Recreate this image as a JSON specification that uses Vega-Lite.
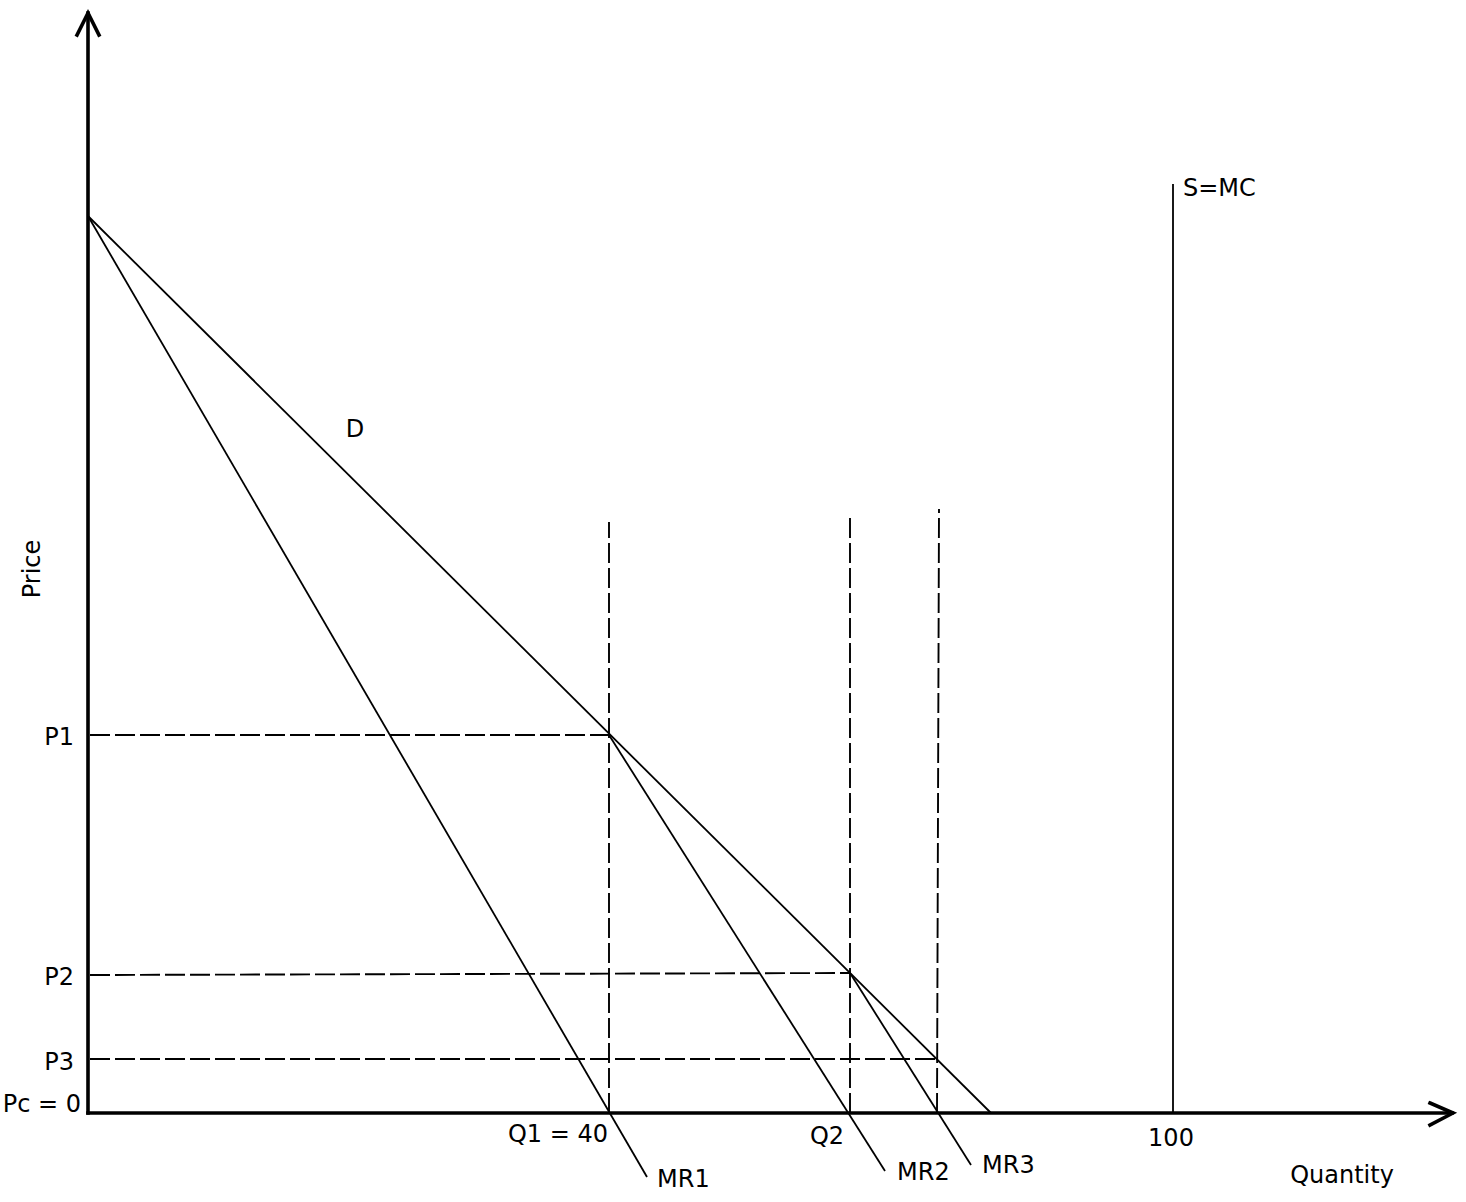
{
  "$schema": "https://vega.github.io/schema/vega-lite/v6.json",
  "description": "Monopoly pricing diagram: demand D, marginal revenue curves MR1-MR3, vertical supply S=MC and dashed price/quantity guides.",
  "width": 1466,
  "height": 1202,
  "padding": 0,
  "autosize": {"type": "none"},
  "background": "white",
  "datasets": {
    "curves": [
      {"id": "D", "i": 0, "q": 0, "p": 89.7},
      {"id": "D", "i": 1, "q": 90.3, "p": 0},
      {"id": "MR1", "i": 0, "q": 0, "p": 89.7},
      {"id": "MR1", "i": 1, "q": 55.9, "p": -6.4},
      {"id": "MR2", "i": 0, "q": 52.1, "p": 37.8},
      {"id": "MR2", "i": 1, "q": 79.7, "p": -5.8},
      {"id": "MR3", "i": 0, "q": 76.2, "p": 14.0},
      {"id": "MR3", "i": 1, "q": 88.3, "p": -5.2},
      {"id": "S=MC", "i": 0, "q": 108.5, "p": 92.9},
      {"id": "S=MC", "i": 1, "q": 108.5, "p": 0}
    ],
    "guides": [
      {"id": "P1", "i": 0, "q": 0.2, "p": 37.8},
      {"id": "P1", "i": 1, "q": 52.1, "p": 37.8},
      {"id": "P2", "i": 0, "q": 0.2, "p": 13.8},
      {"id": "P2", "i": 1, "q": 76.2, "p": 14.0},
      {"id": "P3", "i": 0, "q": 0.2, "p": 5.4},
      {"id": "P3", "i": 1, "q": 84.9, "p": 5.4},
      {"id": "Q1", "i": 0, "q": 52.1, "p": 0},
      {"id": "Q1", "i": 1, "q": 52.1, "p": 59.1},
      {"id": "Q2", "i": 0, "q": 76.2, "p": 0},
      {"id": "Q2", "i": 1, "q": 76.2, "p": 60.0},
      {"id": "Q3", "i": 0, "q": 84.9, "p": 0},
      {"id": "Q3", "i": 1, "q": 85.1, "p": 60.4}
    ],
    "axes": [
      {"id": "price", "i": 0, "q": 0, "p": 0},
      {"id": "price", "i": 1, "q": 0, "p": 110},
      {"id": "quantity", "i": 0, "q": 0, "p": 0},
      {"id": "quantity", "i": 1, "q": 136.4, "p": 0},
      {"id": "price-head", "i": 0, "q": -1.1, "p": 107.8},
      {"id": "price-head", "i": 1, "q": 0, "p": 110},
      {"id": "price-head", "i": 2, "q": 1.1, "p": 107.8},
      {"id": "quantity-head", "i": 0, "q": 134.2, "p": 1.0},
      {"id": "quantity-head", "i": 1, "q": 136.5, "p": 0},
      {"id": "quantity-head", "i": 2, "q": 134.2, "p": -1.2}
    ],
    "labelsRight": [
      {"label": "P1", "q": -1.4, "p": 36.8},
      {"label": "P2", "q": -1.4, "p": 12.8},
      {"label": "P3", "q": -1.4, "p": 4.3},
      {"label": "Pc = 0", "q": -0.7, "p": 0.1},
      {"label": "Q1 = 40", "q": 52.0, "p": -2.9}
    ],
    "labelsLeft": [
      {"label": "MR1", "q": 56.9, "p": -7.4},
      {"label": "MR2", "q": 80.9, "p": -6.7},
      {"label": "MR3", "q": 89.4, "p": -6.0},
      {"label": "S=MC", "q": 109.5, "p": 91.7}
    ],
    "labelsCenter": [
      {"label": "Q2", "q": 73.9, "p": -3.1},
      {"label": "100", "q": 108.3, "p": -3.3},
      {"label": "D", "q": 26.7, "p": 67.6},
      {"label": "Quantity", "q": 125.4, "p": -7.0}
    ],
    "axisTitle": [
      {"label": "Price", "q": -4.8, "p": 54.4}
    ]
  },
  "encoding": {
    "x": {"field": "q", "type": "quantitative", "scale": {"domain": [-8.8, 137.8], "nice": false, "zero": false}, "axis": null},
    "y": {"field": "p", "type": "quantitative", "scale": {"domain": [-8.9, 111.3], "nice": false, "zero": false}, "axis": null}
  },
  "layer": [
    {
      "data": {"name": "guides"},
      "mark": {"type": "line", "color": "black", "strokeWidth": 1.9, "strokeDash": [20, 5]},
      "encoding": {"detail": {"field": "id"}, "order": {"field": "i"}}
    },
    {
      "data": {"name": "curves"},
      "mark": {"type": "line", "color": "black", "strokeWidth": 1.8},
      "encoding": {"detail": {"field": "id"}, "order": {"field": "i"}}
    },
    {
      "data": {"name": "axes"},
      "mark": {"type": "line", "color": "black", "strokeWidth": 3.6, "strokeJoin": "miter", "strokeCap": "square"},
      "encoding": {"detail": {"field": "id"}, "order": {"field": "i"}}
    },
    {
      "data": {"name": "labelsRight"},
      "mark": {"type": "text", "align": "right", "baseline": "alphabetic", "font": "DejaVu Sans", "fontSize": 24, "color": "black"},
      "encoding": {"text": {"field": "label"}}
    },
    {
      "data": {"name": "labelsLeft"},
      "mark": {"type": "text", "align": "left", "baseline": "alphabetic", "font": "DejaVu Sans", "fontSize": 24, "color": "black"},
      "encoding": {"text": {"field": "label"}}
    },
    {
      "data": {"name": "labelsCenter"},
      "mark": {"type": "text", "align": "center", "baseline": "alphabetic", "font": "DejaVu Sans", "fontSize": 24, "color": "black"},
      "encoding": {"text": {"field": "label"}}
    },
    {
      "data": {"name": "axisTitle"},
      "mark": {"type": "text", "align": "center", "baseline": "alphabetic", "angle": 270, "font": "DejaVu Sans", "fontSize": 24, "color": "black"},
      "encoding": {"text": {"field": "label"}}
    }
  ],
  "config": {"view": {"stroke": null}}
}
